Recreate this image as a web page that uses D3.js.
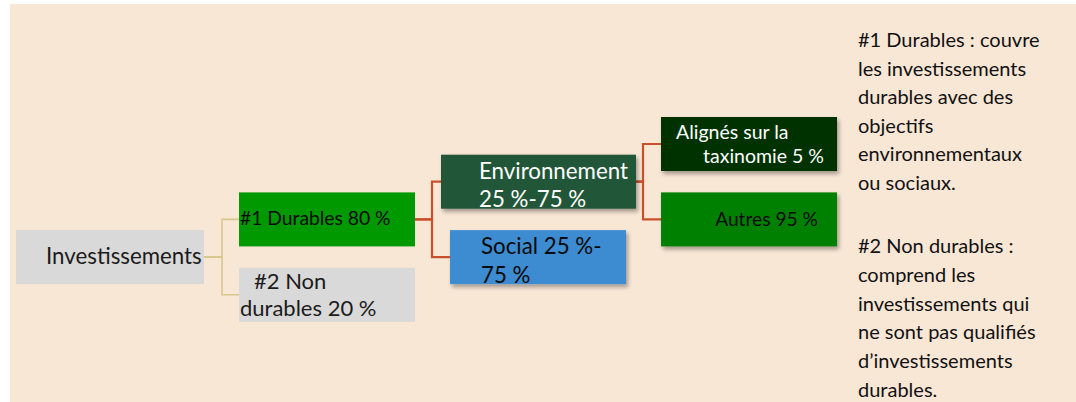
<!DOCTYPE html>
<html>
<head>
<meta charset="utf-8">
<script src="https://cdn.jsdelivr.net/npm/d3@7"></script>
<style>
  html, body { margin: 0; padding: 0; background: #fff; }
  svg { display: block; }
  text { font-family: Lato, "Open Sans", sans-serif; }
</style>
</head>
<body>
<svg id="chart"></svg>
<script>
// tree content
const nodeIds = ["inv", "d1", "d2", "env", "soc", "tax", "aut"];
const nodeLines = [
  ["Investissements"],
  ["#1 Durables 80 %"],
  ["#2 Non", "durables 20 %"],
  ["Environnement", "25 %-75 %"],
  ["Social 25 %-", "75 %"],
  ["Alignés sur la", "taxinomie 5 %"],
  ["Autres 95 %"]
];
const nodeParents = [null, "inv", "inv", "d1", "d1", "env", "env"];
const nodeLevels = [0, 1, 1, 2, 2, 3, 3];
const nodeRows = [3, 2, 4, 1, 3, 0, 2];

// side notes
const note1 = ["#1 Durables : couvre", "les investissements", "durables avec des",
  "objectifs", "environnementaux", "ou sociaux."];
const note2 = ["#2 Non durables :", "comprend les", "investissements qui",
  "ne sont pas qualifiés", "d\u2019investissements", "durables."];

const width = 1076, height = 402;

const x = d3.scaleOrdinal().domain([0, 1, 2, 3]).range([16, 239, 441, 661]);
const y = d3.scaleLinear().domain([0, 4]).range([144, 294.8]);
const elbowX = d3.scaleOrdinal().domain([0, 1, 2]).range([222, 432, 643]);

// box look, keyed by node id
const look = {
  inv: { w: 188, fill: "#D9D9D9", color: "#1b1b1b", size: 22.3, ty: 34, lh: 0, tx: [["start", 30]] },
  d1:  { w: 176, fill: "#009900", color: "#0a0a0a", size: 19.3, ty: 32.5, lh: 0, tx: [["start", 1]] },
  d2:  { w: 176, fill: "#D9D9D9", color: "#1b1b1b", size: 22, ty: 21.5, lh: 27, tx: [["start", 15], ["start", 1]] },
  env: { w: 195, fill: "#245638", color: "#ffffff", size: 22.3, ty: 24, lh: 28, tx: [["start", 38], ["start", 38]], shadow: true },
  soc: { w: 176, dx: 9, fill: "#3E8BD0", color: "#0a0a0a", size: 22.3, ty: 24, lh: 29, tx: [["start", 31], ["start", 31]], shadow: true },
  tax: { w: 176, fill: "#003300", color: "#ffffff", size: 19.5, ty: 22, lh: 24, tx: [["start", 15], ["end", -13]], shadow: true },
  aut: { w: 176, fill: "#008000", color: "#0a0a0a", size: 19.2, ty: 33.5, lh: 0, tx: [["end", -19]], shadow: true }
};
const boxH = 54;

const nodes = nodeIds.map(function (id, i) {
  const s = look[id];
  const left = x(nodeLevels[i]) + (s.dx || 0);
  return {
    id: id, lines: nodeLines[i], parent: nodeParents[i], level: nodeLevels[i],
    left: left, right: left + s.w, cy: y(nodeRows[i]), top: y(nodeRows[i]) - boxH / 2
  };
});
const byId = {};
nodes.forEach(function (d) { byId[d.id] = d; });

const svg = d3.select("#chart")
  .attr("width", width)
  .attr("height", height);

const defs = svg.append("defs");
defs.append("filter")
  .attr("id", "shadow")
  .attr("x", "-10%").attr("y", "-10%")
  .attr("width", "130%").attr("height", "140%")
  .append("feDropShadow")
  .attr("dx", 2).attr("dy", 3)
  .attr("stdDeviation", 2)
  .attr("flood-color", "#000")
  .attr("flood-opacity", 0.35);

svg.append("rect")
  .attr("x", 10).attr("y", 4)
  .attr("width", width - 10).attr("height", height - 4)
  .attr("fill", "#F9E7D6");

// connectors
svg.append("g")
  .selectAll("path")
  .data(nodes.filter(function (d) { return d.parent; }))
  .join("path")
  .attr("fill", "none")
  .attr("stroke", function (d) { return byId[d.parent].level === 0 ? "#D6C88C" : "#C8512C"; })
  .attr("stroke-width", function (d) { return byId[d.parent].level === 0 ? 1.6 : 2.2; })
  .attr("d", function (d) {
    const p = byId[d.parent];
    const mx = elbowX(p.level);
    return "M" + p.right + "," + p.cy + "H" + mx + "V" + d.cy + "H" + d.left;
  });

// boxes
const box = svg.append("g")
  .selectAll("g")
  .data(nodes)
  .join("g")
  .attr("transform", function (d) { return "translate(" + d.left + "," + d.top + ")"; });

box.append("rect")
  .attr("width", function (d) { return look[d.id].w; })
  .attr("height", boxH)
  .attr("fill", function (d) { return look[d.id].fill; })
  .attr("filter", function (d) { return look[d.id].shadow ? "url(#shadow)" : null; });

box.each(function (d) {
  const s = look[d.id];
  d3.select(this).selectAll("text")
    .data(d.lines)
    .join("text")
    .attr("x", function (t, i) { return s.tx[i][0] === "end" ? s.w + s.tx[i][1] : s.tx[i][1]; })
    .attr("y", function (t, i) { return s.ty + i * s.lh; })
    .attr("text-anchor", function (t, i) { return s.tx[i][0]; })
    .attr("fill", s.color)
    .style("font-size", s.size + "px")
    .text(function (t) { return t; });
});

// notes on the right
const notes = svg.append("g")
  .attr("fill", "#111")
  .style("font-size", "20px");

notes.selectAll("text.n1")
  .data(note1)
  .join("text")
  .attr("class", "n1")
  .attr("x", 858)
  .attr("y", function (d, i) { return 47 + i * 28.5; })
  .text(function (d) { return d; });

notes.selectAll("text.n2")
  .data(note2)
  .join("text")
  .attr("class", "n2")
  .attr("x", 858)
  .attr("y", function (d, i) { return 253 + i * 28.8; })
  .text(function (d) { return d; });
</script>
</body>
</html>
